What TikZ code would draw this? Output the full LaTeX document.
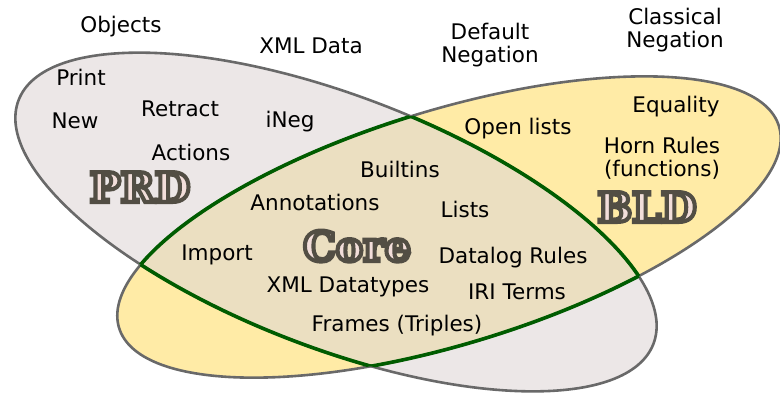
\documentclass[tikz,border=0pt]{standalone}
\usepackage{fontspec}
\setmainfont{DejaVu Sans}
\newfontfamily\slabfont[FakeBold=10]{DejaVu Serif Bold}
\definecolor{prdgray}{RGB}{236,231,231}
\definecolor{bldyellow}{RGB}{255,235,166}
\definecolor{corebeige}{RGB}{235,223,193}
\definecolor{rimgray}{RGB}{105,105,105}
\definecolor{coregreen}{RGB}{0,92,0}
\definecolor{badgepink}{RGB}{242,222,218}

\newcommand{\prdloop}{[rotate around={-21:(336,222)}] (336,222) ellipse [x radius=340bp, y radius=126bp]}
\newcommand{\bldloop}{[rotate around={17:(449,227)}] (449,227) ellipse [x radius=345bp, y radius=117bp]}
% pink glyph, dark stroked rim
\newcommand{\badge}[1]{\textcolor{badgepink}{\special{pdf:literal direct 0.32 0.305 0.265 RG}#1}}

\begin{document}
\begin{tikzpicture}[
    x=1bp, y=-1bp,
    feature/.style={inner sep=0pt, font=\fontsize{21.5bp}{23bp}\selectfont},
    dialect/.style={inner sep=0pt, anchor=base, font=\slabfont\fontsize{41bp}{42bp}\selectfont},
    rim/.style={draw=rimgray, line width=2.6bp},
    corerim/.style={draw=coregreen, line width=3.6bp}
]
    \useasboundingbox (0,0) rectangle (780,396);

    % the two dialects
    \fill[prdgray] \prdloop;
    \fill[bldyellow] \bldloop;
    \begin{scope}
        \clip \prdloop;
        \fill[corebeige] \bldloop;
    \end{scope}
    \path[rim] \prdloop;
    \path[rim] \bldloop;

    % Core outline
    \begin{scope}
        \clip \prdloop;
        \path[corerim] \bldloop;
    \end{scope}
    \begin{scope}
        \clip \bldloop;
        \path[corerim] \prdloop;
    \end{scope}

    % outside
    \node[feature, anchor=base] (objects) at (121,32) {Objects};
    \node[feature, anchor=base] (xmldata) at (311,53) {XML Data};
    \node[feature, align=center] (defneg) at (490,45) {Default\\Negation};
    \node[feature, align=center] (classneg) at (675,30) {Classical\\Negation};

    % PRD only
    \node[feature, anchor=base] (print) at (81,85) {Print};
    \node[feature, anchor=base] (new) at (75,128) {New};
    \node[feature, anchor=base] (retract) at (180,116) {Retract};
    \node[feature, anchor=base] (ineg) at (290,127) {iNeg};
    \node[feature, anchor=base] (actions) at (191,160) {Actions};
    \node[dialect] (prd) at (140,202) {\badge{PRD}};

    % BLD only
    \node[feature, anchor=base] (openlists) at (518,134) {Open lists};
    \node[feature, anchor=base] (equality) at (676,112) {Equality};
    \node[feature, align=center] (horn) at (662,158) {Horn Rules\\(functions)};
    \node[dialect] (bld) at (647,222) {\badge{BLD}};

    % Core
    \node[feature, anchor=base] (builtins) at (400,177) {Builtins};
    \node[feature, anchor=base] (annotations) at (315,210) {Annotations};
    \node[feature, anchor=base] (lists) at (465,217) {Lists};
    \node[dialect] (core) at (357,261) {\badge{Core}};
    \node[feature, anchor=base] (import) at (217,260) {Import};
    \node[feature, anchor=base] (datalog) at (513,263) {Datalog Rules};
    \node[feature, anchor=base] (xmltypes) at (348,292) {XML Datatypes};
    \node[feature, anchor=base] (iri) at (517,299) {IRI Terms};
    \node[feature, anchor=base] (frames) at (397,331) {Frames (Triples)};
\end{tikzpicture}
\end{document}
